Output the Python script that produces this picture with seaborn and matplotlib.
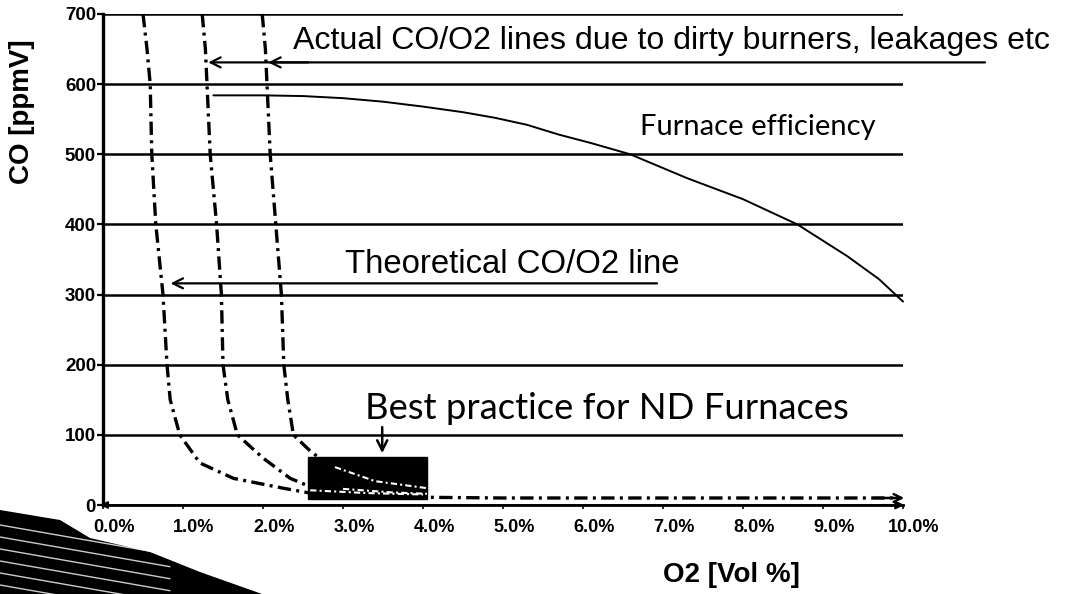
import numpy as np
import pandas as pd
import matplotlib
matplotlib.use("Agg")
import matplotlib.pyplot as plt
import seaborn as sns
from matplotlib.patches import Rectangle, Polygon
from matplotlib.transforms import ScaledTranslation

# ---------------- data ----------------
theo_o2 = [0.50, 0.55, 0.59, 0.61, 0.66, 0.75, 0.80, 0.84, 0.96, 1.21, 1.63, 2.25, 2.59, 3.3, 4.0, 5.0, 6.0, 7.0, 8.0, 9.0, 9.9]
theo_co = [700, 650, 600, 500, 400, 300, 200, 150, 100, 60, 38, 24, 17, 13, 11, 10, 10, 10, 10, 10, 10]

act1_o2 = [1.24, 1.28, 1.30, 1.34, 1.42, 1.48, 1.50, 1.56, 1.68, 2.00, 2.34, 2.55, 3.0, 3.6, 4.05]
act1_co = [700, 650, 600, 500, 400, 300, 200, 150, 100, 67, 38, 28, 19, 14, 12]

act2_o2 = [1.99, 2.03, 2.05, 2.09, 2.16, 2.23, 2.26, 2.31, 2.38, 2.59, 2.90, 3.4, 4.05]
act2_co = [700, 650, 600, 500, 400, 300, 200, 150, 100, 77, 50, 30, 20]

eff_o2 = [1.38, 2.0, 2.5, 3.0, 3.5, 4.0, 4.5, 4.9, 5.3, 5.7, 6.1, 6.59, 7.3, 8.0, 8.68, 9.3, 9.7, 10.0]
eff_co = [584, 584, 583, 580, 575, 568, 560, 552, 542, 528, 516, 500, 466, 436, 400, 355, 322, 290]

best_o2 = [2.56, 4.05]
best_co = [8, 68]

x_ticks = [0, 1, 2, 3, 4, 5, 6, 7, 8, 9, 10]
x_labels = ["0.0%", "1.0%", "2.0%", "3.0%", "4.0%", "5.0%", "6.0%", "7.0%", "8.0%", "9.0%", "10.0%"]
y_ticks = [0, 100, 200, 300, 400, 500, 600, 700]

# ---------------- style ----------------
sns.set_theme(style="white")
plt.rcParams["font.family"] = ["Liberation Sans", "DejaVu Sans"]
plt.rcParams["text.color"] = "black"

W, H = 1079, 594
fig = plt.figure(figsize=(W / 100, H / 100), dpi=100)
ax = fig.add_axes([103 / W, 1 - 505 / H, 800 / W, 491 / H])
ax.set_facecolor("white")

dashdot = (0, (4.0, 1.6, 0.9, 1.6))

curves = pd.concat([
    pd.DataFrame({"o2": theo_o2, "co": theo_co, "line": "theoretical"}),
    pd.DataFrame({"o2": act1_o2, "co": act1_co, "line": "actual1"}),
    pd.DataFrame({"o2": act2_o2, "co": act2_co, "line": "actual2"}),
])
for name, grp in curves.groupby("line"):
    sns.lineplot(data=grp, x="o2", y="co", sort=False, estimator=None, ax=ax,
                 color="black", lw=2.4, linestyle=dashdot, zorder=4, clip_on=False)

eff = pd.DataFrame({"o2": eff_o2, "co": eff_co})
sns.lineplot(data=eff, x="o2", y="co", sort=False, estimator=None, ax=ax,
             color="black", lw=1.4, zorder=4, clip_on=False)

# best practice box
ax.add_patch(Rectangle((best_o2[0], best_co[0]), best_o2[1] - best_o2[0], best_co[1] - best_co[0],
                       facecolor="black", edgecolor="black", zorder=6))
# the curves showing through the box in white
for xs, ys in [(theo_o2, theo_co), (act1_o2, act1_co), (act2_o2, act2_co)]:
    xs = np.array(xs); ys = np.array(ys)
    m = (xs >= best_o2[0]) & (xs <= best_o2[1]) & (ys <= best_co[1])
    if m.sum() >= 2:
        ax.plot(xs[m], ys[m] + 4, color="white", lw=1.5, linestyle=(0, (3, 1.5, 1, 1.5)), zorder=7)

# axes
ax.set_xlim(0, 10)
ax.set_ylim(0, 700)
ax.set_xticks(x_ticks)
ax.set_xticklabels(x_labels, fontsize=13, fontweight="bold")
ax.set_yticks(y_ticks)
ax.set_yticklabels([str(v) for v in y_ticks], fontsize=13.5, fontweight="bold")
ax.tick_params(axis="y", length=4, width=1.6, pad=1, colors="black", left=True)
ax.tick_params(axis="x", length=3, width=1.2, pad=7, colors="black", bottom=True, direction="out")
for lab in ax.get_xticklabels():
    lab.set_transform(lab.get_transform() + ScaledTranslation(0.11, 0, fig.dpi_scale_trans))
ax.set_xlabel("")
ax.set_ylabel("")
ax.yaxis.grid(True, color="black", lw=1.8)
ax.xaxis.grid(False)
for s in ["top", "right"]:
    ax.spines[s].set_visible(False)
ax.spines["left"].set_color("black")
ax.spines["left"].set_linewidth(2.4)
ax.spines["bottom"].set_color("black")
ax.spines["bottom"].set_linewidth(2.0)

# axis arrows
ax.annotate("", xy=(10.05, 0), xytext=(9.7, 0), annotation_clip=False,
            arrowprops=dict(arrowstyle="-|>", color="black", lw=1.5, mutation_scale=12))
ax.annotate("", xy=(-0.07, 0), xytext=(0.1, 0), annotation_clip=False,
            arrowprops=dict(arrowstyle="-|>", color="black", lw=1.5, mutation_scale=10))
ax.annotate("", xy=(10.05, 10), xytext=(9.6, 10), annotation_clip=False,
            arrowprops=dict(arrowstyle="->", color="black", lw=1.8, mutation_scale=14))

# annotations
arial = ["Liberation Sans", "DejaVu Sans"]
geo = ["Lato", "DejaVu Sans"]
ax.text(2.375, 662, "Actual CO/O2 lines due to dirty burners, leakages etc", fontsize=23.1,
        family=arial, ha="left", va="center", clip_on=False, color="black")
ax.annotate("", xy=(1.28, 631), xytext=(11.06, 631), annotation_clip=False,
            arrowprops=dict(arrowstyle="->", color="black", lw=1.6, mutation_scale=18))
ax.annotate("", xy=(2.03, 631), xytext=(2.6, 631), annotation_clip=False,
            arrowprops=dict(arrowstyle="->", color="black", lw=1.6, mutation_scale=18))

ax.text(6.71, 539, "Furnace efficiency", fontsize=21, family=geo, ha="left", va="center",
        color="black")

ax.text(3.03, 343, "Theoretical CO/O2 line", fontsize=23.7, family=arial, ha="left", va="center",
        color="black")
ax.annotate("", xy=(0.81, 316), xytext=(6.96, 316), annotation_clip=False,
            arrowprops=dict(arrowstyle="->", color="black", lw=1.6, mutation_scale=18))

ax.text(3.28, 137, "Best practice for ND Furnaces", fontsize=26.2, family=geo, ha="left",
        va="center", color="black")
ax.annotate("", xy=(3.49, 70), xytext=(3.49, 115), annotation_clip=False,
            arrowprops=dict(arrowstyle="->", color="black", lw=1.8, mutation_scale=18))

# axis titles placed as in the reference
fig.text(22 / W, 1 - 112 / H, "CO [ppmV]", rotation=90, fontsize=20, fontweight="bold",
         ha="center", va="center", color="black")
fig.text(731 / W, 1 - 575 / H, "O2 [Vol %]", fontsize=20, fontweight="bold",
         ha="center", va="center", color="black")

# scanned dark smear at the lower left corner
smear = Polygon([[0 / W, 1 - 510 / H], [60 / W, 1 - 520 / H], [90 / W, 1 - 538 / H],
                 [150 / W, 1 - 552 / H], [200 / W, 1 - 572 / H], [262 / W, 0.0], [0, 0]],
                closed=True, transform=fig.transFigure, facecolor="black", edgecolor="none",
                zorder=0)
fig.patches.append(smear)
for k in range(6):
    y0 = 1 - (525 + k * 12) / H
    fig.lines.append(plt.Line2D([0, 170 / W], [y0, y0 - 0.05], transform=fig.transFigure,
                                color="white", lw=1.0, alpha=0.8))

fig.savefig("out.png", dpi=100, facecolor="white")
